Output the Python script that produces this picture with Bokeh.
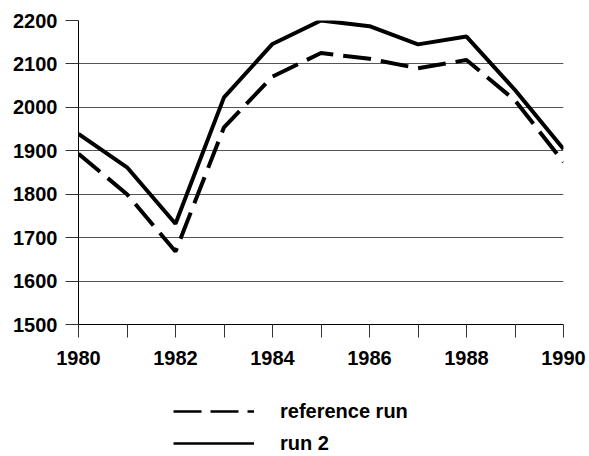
from bokeh.plotting import figure
from bokeh.models import Range1d, FixedTicker, Legend, LegendItem
from bokeh.layouts import column
from bokeh.embed import file_html
from bokeh.resources import INLINE

years = [1980, 1981, 1982, 1983, 1984, 1985, 1986, 1987, 1988, 1989, 1990]
reference_run = [1893, 1800, 1668, 1954, 2071, 2125, 2112, 2090, 2109, 2016, 1874]
run_2 = [1939, 1862, 1732, 2023, 2146, 2200, 2187, 2145, 2163, 2040, 1904]
y_ticks = [1500, 1600, 1700, 1800, 1900, 2000, 2100, 2200]
x_ticks = years
x_labels = {y: (str(y) if y % 2 == 0 else "") for y in years}
series_names = ["reference run", "run 2"]

FONT = "Liberation Sans"
DASH = "28 10"

p = figure(frame_width=485, frame_height=304, output_backend="svg", toolbar_location=None,
           x_range=Range1d(1980, 1990), y_range=Range1d(1500, 2200),
           min_border_left=78, min_border_right=26, min_border_top=20, min_border_bottom=50)
p.outline_line_color = None
p.background_fill_color = "white"
p.border_fill_color = "white"

r1 = p.line(years, reference_run, line_color="black", line_width=4, line_dash=DASH)
r2 = p.line(years, run_2, line_color="black", line_width=4)

p.xgrid.visible = False
p.ygrid.ticker = FixedTicker(ticks=y_ticks)
p.ygrid.grid_line_color = "#555555"
p.ygrid.grid_line_width = 1

for ax in (p.xaxis[0], p.yaxis[0]):
    ax.axis_line_color = "black"
    ax.axis_line_width = 1
    ax.major_tick_line_color = "#333333"
    ax.major_tick_out = 13
    ax.major_tick_in = 0
    ax.minor_tick_out = 0
    ax.minor_tick_in = 0
    ax.major_label_text_font = FONT
    ax.major_label_text_font_style = "bold"
    ax.major_label_text_font_size = "20px"
    ax.major_label_text_color = "black"

p.xaxis.ticker = FixedTicker(ticks=x_ticks)
p.xaxis.major_label_overrides = x_labels
p.xaxis.major_label_standoff = 13
p.yaxis.ticker = FixedTicker(ticks=y_ticks)
p.yaxis.major_label_standoff = 8

# legend figure below the chart (its lines lie outside its own view; only the keys show)
p2 = figure(width=589, height=82, output_backend="svg", toolbar_location=None,
            x_range=Range1d(0, 1), y_range=Range1d(0, 1),
            min_border_left=0, min_border_right=0, min_border_top=0, min_border_bottom=0)
p2.axis.visible = False
p2.grid.visible = False
p2.outline_line_color = None
p2.background_fill_color = "white"
p2.border_fill_color = "white"
l1 = p2.line(years, reference_run, line_color="black", line_width=2.5, line_dash="28 9")
l2 = p2.line(years, run_2, line_color="black", line_width=2.5)

legend = Legend(items=[LegendItem(label=series_names[0], renderers=[l1]),
                       LegendItem(label=series_names[1], renderers=[l2])],
                location=(95, 1), orientation="vertical")
legend.label_text_font = FONT
legend.label_text_font_style = "bold"
legend.label_text_font_size = "20px"
legend.label_text_color = "black"
legend.glyph_width = 81
legend.glyph_height = 24
legend.label_height = 24
legend.label_standoff = 26
legend.spacing = 8
legend.padding = 0
legend.margin = 0
legend.border_line_color = None
legend.background_fill_alpha = 0
p2.add_layout(legend, "center")

layout = column(p, p2, spacing=0)
open("out.html", "w").write(file_html(layout, INLINE))
